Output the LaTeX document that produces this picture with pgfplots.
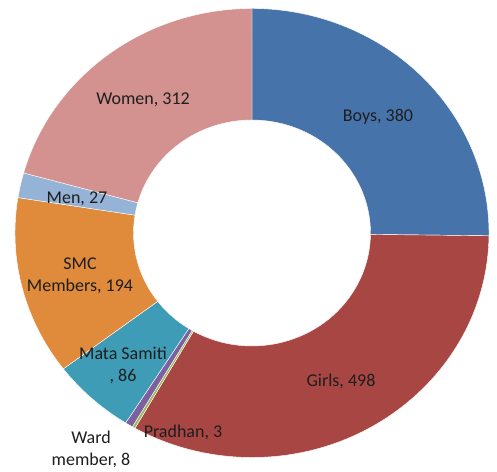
\documentclass[border=0pt]{standalone}
\usepackage{pgfplots}
\pgfplotsset{compat=1.18}
\usepackage{pgfplotstable}
\usepackage{fontspec}
\setmainfont{Carlito}

\definecolor{col0}{HTML}{4674AA}
\definecolor{col1}{HTML}{A84643}
\definecolor{col2}{HTML}{9BBB59}
\definecolor{col3}{HTML}{7E5FA0}
\definecolor{col4}{HTML}{3F9CB6}
\definecolor{col5}{HTML}{E08A3C}
\definecolor{col6}{HTML}{95B3D7}
\definecolor{col7}{HTML}{D39290}
\definecolor{lbl}{HTML}{1E1E1E}

\pgfplotstableread{
label value
Boys 380
Girls 498
Pradhan 3
Ward 8
Mata 86
SMC 194
Men 27
Women 312
}\datatable

% cumulative angles (clockwise from 12 o'clock)
\def\total{0}
\pgfplotsforeachungrouped \i in {0,...,7}{%
  \pgfplotstablegetelem{\i}{value}\of\datatable
  \pgfmathsetmacro\total{\total+\pgfplotsretval}%
}
\def\cum{0}
\pgfplotsforeachungrouped \i in {0,...,7}{%
  \pgfplotstablegetelem{\i}{value}\of\datatable
  \pgfmathsetmacro\angstart{90-(\cum/\total)*360}%
  \pgfmathsetmacro\cum{\cum+\pgfplotsretval}%
  \pgfmathsetmacro\angend{90-(\cum/\total)*360}%
  \expandafter\xdef\csname as\i\endcsname{\angstart}%
  \expandafter\xdef\csname ae\i\endcsname{\angend}%
}

\begin{document}
\begin{tikzpicture}
\begin{axis}[
  hide axis, clip=false, scale only axis,
  x=0.6pt, y=0.6pt,
  xmin=0, xmax=497, ymin=0, ymax=472,
]
\path (axis cs:0,0) rectangle (axis cs:497,472);
\pgfplotsforeachungrouped \i in {0,...,7}{%
  \edef\cmd{\noexpand\fill[col\i, draw=white, line width=0.25pt]
    (axis cs:{252+237*cos(\csname as\i\endcsname)},{239+224.5*sin(\csname as\i\endcsname)})
    arc[start angle=\csname as\i\endcsname, end angle=\csname ae\i\endcsname, x radius=142.2pt, y radius=134.7pt]
    -- (axis cs:{252+118.5*cos(\csname ae\i\endcsname)},{239+113*sin(\csname ae\i\endcsname)})
    arc[start angle=\csname ae\i\endcsname, end angle=\csname as\i\endcsname, x radius=71.1pt, y radius=67.8pt]
    -- cycle;}%
  \cmd
}
\tikzset{lab/.style={text=lbl, font=\fontsize{10.8}{13.2}\selectfont, align=center, inner sep=0pt}}
\node[lab] at (axis cs:378,355) {Boys, 380};
\node[lab] at (axis cs:341,91) {Girls, 498};
\node[lab] at (axis cs:183,40) {Pradhan, 3};
\node[lab] at (axis cs:91,22.5) {Ward\\member, 8};
\node[lab] at (axis cs:123,107) {Mata Samiti\\, 86};
\node[lab] at (axis cs:80,196) {SMC\\Members, 194};
\node[lab] at (axis cs:77,273) {Men, 27};
\node[lab] at (axis cs:143,372) {Women, 312};
\end{axis}
\end{tikzpicture}
\end{document}
